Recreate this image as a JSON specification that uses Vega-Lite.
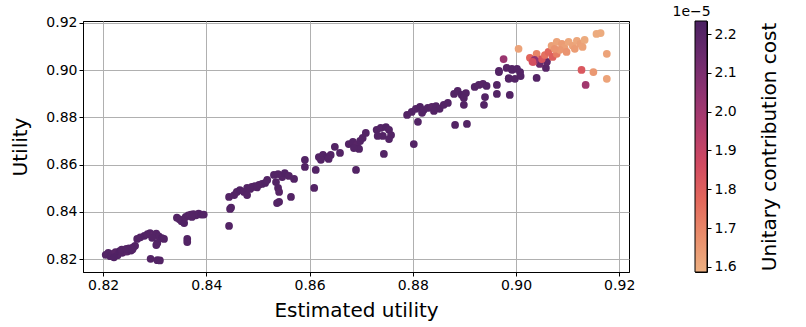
{
  "$schema": "https://vega.github.io/schema/vega-lite/v6.json",
  "padding": {"left": 10, "top": 5, "right": 5, "bottom": 5},
  "background": "white",
  "title": {"text": "1e−5", "anchor": "end", "frame": "bounds", "dx": -69, "dy": 4, "offset": 0, "fontSize": 14, "fontWeight": "normal", "font": "DejaVu Sans", "color": "black"},
  "config": {
    "font": "DejaVu Sans",
    "view": {"stroke": "black", "strokeWidth": 1},
    "concat": {"spacing": 58},
    "axis": {
      "domainColor": "black", "tickColor": "black", "tickSize": 4, "labelPadding": 2,
      "labelFontSize": 14, "labelColor": "black", "titleFontSize": 20, "titleFontWeight": "normal", "titleColor": "black",
      "gridColor": "#b0b0b0", "gridWidth": 1
    }
  },
  "hconcat": [
    {
      "width": 546,
      "height": 251,
      "data": {"values": [
        {"est":0.8205,"util":0.8218,"cost":2.21e-5},{"est":0.8210,"util":0.8226,"cost":2.21e-5},{"est":0.8214,"util":0.8212,"cost":2.22e-5},{"est":0.8219,"util":0.8222,"cost":2.21e-5},{"est":0.8224,"util":0.8229,"cost":2.2e-5},{"est":0.8228,"util":0.8216,"cost":2.21e-5},{"est":0.8232,"util":0.8233,"cost":2.22e-5},{"est":0.8237,"util":0.8226,"cost":2.21e-5},{"est":0.8241,"util":0.8238,"cost":2.21e-5},{"est":0.8246,"util":0.8231,"cost":2.2e-5},{"est":0.8250,"util":0.8245,"cost":2.21e-5},{"est":0.8254,"util":0.8236,"cost":2.22e-5},{"est":0.8258,"util":0.8249,"cost":2.21e-5},{"est":0.8262,"util":0.8256,"cost":2.21e-5},{"est":0.8236,"util":0.8240,"cost":2.21e-5},{"est":0.8221,"util":0.8207,"cost":2.22e-5},{"est":0.8245,"util":0.8243,"cost":2.21e-5},{"est":0.8257,"util":0.8241,"cost":2.21e-5},
        {"est":0.8266,"util":0.8285,"cost":2.21e-5},{"est":0.8272,"util":0.8292,"cost":2.21e-5},{"est":0.8280,"util":0.8298,"cost":2.22e-5},{"est":0.8286,"util":0.8305,"cost":2.21e-5},{"est":0.8291,"util":0.8310,"cost":2.21e-5},{"est":0.8298,"util":0.8302,"cost":2.2e-5},{"est":0.8303,"util":0.8308,"cost":2.21e-5},{"est":0.8308,"util":0.8296,"cost":2.21e-5},{"est":0.8314,"util":0.8288,"cost":2.22e-5},{"est":0.8318,"util":0.8285,"cost":2.21e-5},{"est":0.8305,"util":0.8268,"cost":2.21e-5},{"est":0.8303,"util":0.8259,"cost":2.21e-5},{"est":0.8295,"util":0.8290,"cost":2.21e-5},
        {"est":0.8292,"util":0.8201,"cost":2.21e-5},{"est":0.8305,"util":0.8195,"cost":2.21e-5},{"est":0.8310,"util":0.8194,"cost":2.21e-5},
        {"est":0.8343,"util":0.8375,"cost":2.21e-5},{"est":0.8348,"util":0.8368,"cost":2.21e-5},{"est":0.8352,"util":0.8360,"cost":2.21e-5},{"est":0.8357,"util":0.8352,"cost":2.22e-5},{"est":0.8360,"util":0.8378,"cost":2.21e-5},{"est":0.8365,"util":0.8385,"cost":2.21e-5},{"est":0.8370,"util":0.8388,"cost":2.2e-5},{"est":0.8375,"util":0.8390,"cost":2.21e-5},{"est":0.8380,"util":0.8385,"cost":2.21e-5},{"est":0.8385,"util":0.8392,"cost":2.21e-5},{"est":0.8390,"util":0.8388,"cost":2.22e-5},{"est":0.8395,"util":0.8388,"cost":2.21e-5},{"est":0.8372,"util":0.8378,"cost":2.21e-5},
        {"est":0.8363,"util":0.8285,"cost":2.21e-5},{"est":0.8363,"util":0.8272,"cost":2.21e-5},
        {"est":0.8444,"util":0.8340,"cost":2.21e-5},{"est":0.8446,"util":0.8412,"cost":2.21e-5},{"est":0.8444,"util":0.8463,"cost":2.21e-5},{"est":0.8448,"util":0.8418,"cost":2.21e-5},
        {"est":0.8454,"util":0.8471,"cost":2.21e-5},{"est":0.8459,"util":0.8484,"cost":2.21e-5},{"est":0.8465,"util":0.8492,"cost":2.22e-5},{"est":0.8473,"util":0.8484,"cost":2.21e-5},{"est":0.8479,"util":0.8501,"cost":2.21e-5},{"est":0.8488,"util":0.8505,"cost":2.2e-5},{"est":0.8494,"util":0.8509,"cost":2.21e-5},{"est":0.8502,"util":0.8514,"cost":2.21e-5},{"est":0.8508,"util":0.8518,"cost":2.21e-5},{"est":0.8514,"util":0.8522,"cost":2.22e-5},{"est":0.8518,"util":0.8535,"cost":2.21e-5},{"est":0.8479,"util":0.8471,"cost":2.21e-5},{"est":0.8485,"util":0.8497,"cost":2.21e-5},{"est":0.8498,"util":0.8503,"cost":2.21e-5},
        {"est":0.8531,"util":0.8556,"cost":2.21e-5},{"est":0.8539,"util":0.8560,"cost":2.21e-5},{"est":0.8547,"util":0.8547,"cost":2.21e-5},{"est":0.8552,"util":0.8564,"cost":2.22e-5},{"est":0.8560,"util":0.8552,"cost":2.21e-5},{"est":0.8570,"util":0.8539,"cost":2.21e-5},{"est":0.8535,"util":0.8526,"cost":2.21e-5},{"est":0.8539,"util":0.8501,"cost":2.21e-5},{"est":0.8541,"util":0.8484,"cost":2.2e-5},{"est":0.8541,"util":0.8442,"cost":2.21e-5},{"est":0.8537,"util":0.8437,"cost":2.21e-5},{"est":0.8564,"util":0.8463,"cost":2.21e-5},
        {"est":0.8591,"util":0.8620,"cost":2.21e-5},{"est":0.8591,"util":0.8590,"cost":2.21e-5},{"est":0.8612,"util":0.8577,"cost":2.21e-5},{"est":0.8609,"util":0.8501,"cost":2.21e-5},
        {"est":0.8618,"util":0.8632,"cost":2.21e-5},{"est":0.8626,"util":0.8641,"cost":2.21e-5},{"est":0.8634,"util":0.8632,"cost":2.22e-5},{"est":0.8641,"util":0.8641,"cost":2.21e-5},{"est":0.8622,"util":0.8620,"cost":2.21e-5},{"est":0.8637,"util":0.8624,"cost":2.21e-5},{"est":0.8649,"util":0.8675,"cost":2.21e-5},{"est":0.8659,"util":0.8649,"cost":2.21e-5},
        {"est":0.8676,"util":0.8687,"cost":2.21e-5},{"est":0.8684,"util":0.8696,"cost":2.21e-5},{"est":0.8692,"util":0.8683,"cost":2.2e-5},{"est":0.8698,"util":0.8700,"cost":2.21e-5},{"est":0.8703,"util":0.8713,"cost":2.21e-5},{"est":0.8709,"util":0.8734,"cost":2.21e-5},{"est":0.8696,"util":0.8666,"cost":2.21e-5},{"est":0.8686,"util":0.8670,"cost":2.21e-5},{"est":0.8690,"util":0.8577,"cost":2.21e-5},
        {"est":0.8730,"util":0.8747,"cost":2.21e-5},{"est":0.8738,"util":0.8755,"cost":2.21e-5},{"est":0.8748,"util":0.8759,"cost":2.22e-5},{"est":0.8754,"util":0.8747,"cost":2.21e-5},{"est":0.8758,"util":0.8725,"cost":2.21e-5},{"est":0.8742,"util":0.8721,"cost":2.21e-5},{"est":0.8732,"util":0.8721,"cost":2.21e-5},{"est":0.8754,"util":0.8708,"cost":2.21e-5},{"est":0.8744,"util":0.8645,"cost":2.21e-5},
        {"est":0.8789,"util":0.8810,"cost":2.21e-5},{"est":0.8798,"util":0.8823,"cost":2.21e-5},{"est":0.8806,"util":0.8836,"cost":2.21e-5},{"est":0.8814,"util":0.8844,"cost":2.22e-5},{"est":0.8821,"util":0.8831,"cost":2.21e-5},{"est":0.8829,"util":0.8840,"cost":2.21e-5},{"est":0.8837,"util":0.8844,"cost":2.2e-5},{"est":0.8845,"util":0.8848,"cost":2.21e-5},{"est":0.8852,"util":0.8836,"cost":2.21e-5},{"est":0.8860,"util":0.8853,"cost":2.21e-5},{"est":0.8868,"util":0.8861,"cost":2.21e-5},{"est":0.8841,"util":0.8827,"cost":2.21e-5},{"est":0.8818,"util":0.8819,"cost":2.21e-5},{"est":0.8810,"util":0.8781,"cost":2.21e-5},{"est":0.8802,"util":0.8687,"cost":2.21e-5},
        {"est":0.8882,"util":0.8768,"cost":2.21e-5},{"est":0.8905,"util":0.8772,"cost":2.21e-5},{"est":0.8880,"util":0.8899,"cost":2.21e-5},{"est":0.8887,"util":0.8912,"cost":2.21e-5},{"est":0.8895,"util":0.8895,"cost":2.22e-5},{"est":0.8903,"util":0.8903,"cost":2.21e-5},{"est":0.8899,"util":0.8882,"cost":2.21e-5},{"est":0.8899,"util":0.8853,"cost":2.21e-5},{"est":0.8920,"util":0.8929,"cost":2.21e-5},{"est":0.8928,"util":0.8937,"cost":2.21e-5},{"est":0.8936,"util":0.8942,"cost":2.2e-5},{"est":0.8943,"util":0.8933,"cost":2.21e-5},{"est":0.8940,"util":0.8886,"cost":2.21e-5},{"est":0.8938,"util":0.8853,"cost":2.21e-5},{"est":0.8963,"util":0.8937,"cost":2.21e-5},{"est":0.8963,"util":0.8899,"cost":2.21e-5},{"est":0.8967,"util":0.8992,"cost":2.21e-5},{"est":0.8988,"util":0.8895,"cost":2.21e-5},{"est":0.8986,"util":0.8963,"cost":2.21e-5},{"est":0.8992,"util":0.9005,"cost":2.21e-5},
        {"est":0.8967,"util":0.8997,"cost":2.21e-5},{"est":0.8982,"util":0.9009,"cost":2.2e-5},{"est":0.8992,"util":0.9001,"cost":2.21e-5},{"est":0.9002,"util":0.9005,"cost":2.21e-5},{"est":0.9008,"util":0.8992,"cost":2.21e-5},{"est":0.8986,"util":0.8966,"cost":2.21e-5},{"est":0.8998,"util":0.8963,"cost":2.21e-5},{"est":0.9009,"util":0.8975,"cost":2.21e-5},{"est":0.9040,"util":0.8967,"cost":2.21e-5},{"est":0.9058,"util":0.9009,"cost":2.2e-5},{"est":0.9060,"util":0.9035,"cost":2.18e-5},{"est":0.9046,"util":0.9026,"cost":2.15e-5},
        {"est":0.9005,"util":0.9090,"cost":1.62e-5},{"est":0.8976,"util":0.9047,"cost":2.02e-5},{"est":0.9027,"util":0.9052,"cost":1.78e-5},{"est":0.9034,"util":0.9035,"cost":1.8e-5},{"est":0.9040,"util":0.9069,"cost":1.7e-5},{"est":0.9050,"util":0.9047,"cost":1.83e-5},{"est":0.9056,"util":0.9064,"cost":1.75e-5},{"est":0.9063,"util":0.9077,"cost":1.78e-5},{"est":0.9071,"util":0.9056,"cost":1.8e-5},{"est":0.9079,"util":0.9069,"cost":1.72e-5},{"est":0.9036,"util":0.9043,"cost":2.05e-5},{"est":0.9032,"util":0.9035,"cost":1.85e-5},
        {"est":0.9069,"util":0.9103,"cost":1.63e-5},{"est":0.9079,"util":0.9120,"cost":1.62e-5},{"est":0.9089,"util":0.9111,"cost":1.64e-5},{"est":0.9094,"util":0.9094,"cost":1.63e-5},{"est":0.9102,"util":0.9120,"cost":1.61e-5},{"est":0.9110,"util":0.9103,"cost":1.62e-5},{"est":0.9118,"util":0.9124,"cost":1.61e-5},{"est":0.9125,"util":0.9111,"cost":1.63e-5},{"est":0.9133,"util":0.9128,"cost":1.6e-5},{"est":0.9085,"util":0.9086,"cost":1.65e-5},{"est":0.9098,"util":0.9077,"cost":1.66e-5},{"est":0.9114,"util":0.9090,"cost":1.64e-5},{"est":0.9129,"util":0.9098,"cost":1.62e-5},{"est":0.9075,"util":0.9090,"cost":1.66e-5},{"est":0.9156,"util":0.9153,"cost":1.6e-5},{"est":0.9164,"util":0.9157,"cost":1.6e-5},{"est":0.9176,"util":0.9069,"cost":1.62e-5},{"est":0.9127,"util":0.9001,"cost":1.82e-5},{"est":0.9150,"util":0.8992,"cost":1.65e-5},{"est":0.9176,"util":0.8963,"cost":1.62e-5},{"est":0.9135,"util":0.8937,"cost":2.0e-5}
      ]},
      "mark": {"type": "circle", "size": 60, "opacity": 1},
      "encoding": {
        "x": {"field": "est", "type": "quantitative", "title": "Estimated utility",
          "scale": {"domain": [0.8161, 0.9219], "nice": false, "zero": false},
          "axis": {"values": [0.82, 0.84, 0.86, 0.88, 0.9, 0.92], "format": ".2f", "titlePadding": 8}},
        "y": {"field": "util", "type": "quantitative", "title": "Utility",
          "scale": {"domain": [0.8145, 0.9208], "nice": false, "zero": false},
          "axis": {"values": [0.82, 0.84, 0.86, 0.88, 0.9, 0.92], "format": ".2f", "titlePadding": 15}},
        "color": {"field": "cost", "type": "quantitative",
          "scale": {"domain": [1.587e-5, 2.2335e-5], "range": ["#edb081", "#e98d6b", "#e3685c", "#d14a61", "#b13c6c", "#8f3371", "#6c2b6d", "#4b2162"], "interpolate": "rgb"},
          "legend": null}
      }
    },
    {
      "width": 12,
      "height": 251,
      "data": {"values": [{"lo": 1.587e-5, "hi": 2.2335e-5}]},
      "mark": {"type": "rect", "stroke": "black", "strokeWidth": 1,
        "fill": {"gradient": "linear", "x1": 0, "y1": 1, "x2": 0, "y2": 0,
          "stops": [
            {"offset": 0, "color": "#edb081"},
            {"offset": 0.142857, "color": "#e98d6b"},
            {"offset": 0.285714, "color": "#e3685c"},
            {"offset": 0.428571, "color": "#d14a61"},
            {"offset": 0.571429, "color": "#b13c6c"},
            {"offset": 0.714286, "color": "#8f3371"},
            {"offset": 0.857143, "color": "#6c2b6d"},
            {"offset": 1, "color": "#4b2162"}
          ]}},
      "encoding": {
        "x": {"value": 0},
        "x2": {"value": "width"},
        "y": {"field": "lo", "type": "quantitative",
          "scale": {"domain": [1.587e-5, 2.2335e-5], "nice": false, "zero": false},
          "axis": {"orient": "right", "title": "Unitary contribution cost", "grid": false, "domain": false,
            "values": [1.6e-5, 1.7e-5, 1.8e-5, 1.9e-5, 2.0e-5, 2.1e-5, 2.2e-5],
            "labelExpr": "format(datum.value * 1e5, '.1f')", "labelPadding": 3,
            "titleAngle": -90, "titleBaseline": "top", "titlePadding": 23}},
        "y2": {"field": "hi"}
      }
    }
  ]
}
